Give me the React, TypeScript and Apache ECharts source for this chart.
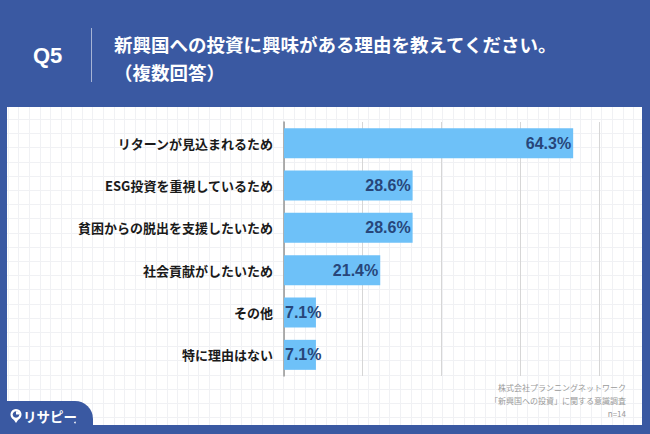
import React, { useEffect, useRef } from "react";
import * as echarts from "echarts";

const categories = [
  "リターンが見込まれるため",
  "ESG投資を重視しているため",
  "貧困からの脱出を支援したいため",
  "社会貢献がしたいため",
  "その他",
  "特に理由はない",
];
const values = [64.3, 28.6, 28.6, 21.4, 7.1, 7.1];
const questionNo = "Q5";
const titleLines = ["新興国への投資に興味がある理由を教えてください。", "（複数回答）"];
const footerLines = ["株式会社プランニングネットワーク", "「新興国への投資」に関する意識調査", "n=14"];
const logoText = "リサピー";

const BLUE = "#3A59A2";
const JP = "'Noto Sans CJK JP', 'Noto Sans', sans-serif";

export default function App() {
  const ref = useRef<HTMLDivElement>(null);
  useEffect(() => {
    if (!ref.current) return;
    const chart = echarts.init(ref.current, undefined, { renderer: "svg" });

    const bg: any[] = [];
    for (let x = 7.7; x < 642; x += 10.6) {
      bg.push({
        type: "line",
        z: -1,
        silent: true,
        shape: { x1: Math.round(x) + 0.5, y1: 107, x2: Math.round(x) + 0.5, y2: 425 },
        style: { stroke: "#f0f1f4", lineWidth: 1 },
      });
    }
    for (let y = 119; y < 425; y += 14.2) {
      bg.push({
        type: "line",
        z: -1,
        silent: true,
        shape: { x1: 7, y1: Math.round(y) + 0.5, x2: 642, y2: Math.round(y) + 0.5 },
        style: { stroke: "#f0f1f4", lineWidth: 1 },
      });
    }

    const option: any = {
      animation: false,
      backgroundColor: BLUE,
      grid: { left: 284, top: 122, width: 314.8, height: 254, containLabel: false },
      xAxis: {
        type: "value",
        min: 0,
        max: 70,
        interval: 17.5,
        axisLabel: { show: false },
        axisLine: { show: false },
        axisTick: { show: false },
        splitLine: { show: true, lineStyle: { color: "#d6d6d6", width: 1 } },
      },
      yAxis: {
        type: "category",
        inverse: true,
        data: categories,
        axisLine: { show: true, lineStyle: { color: "#9a9a9a", width: 1.5 } },
        axisTick: { show: false },
        axisLabel: {
          margin: 11,
          color: "#1a1a1a",
          fontSize: 13,
          fontWeight: "bold",
          fontFamily: JP,
        },
      },
      series: [
        {
          type: "bar",
          barWidth: 30,
          z: 3,
          data: values.map((v) => ({
            value: v,
            label:
              v < 10
                ? { position: "insideLeft", distance: 1 }
                : { position: "insideRight", distance: 2 },
          })),
          itemStyle: { color: "#6EC1F8" },
          label: {
            show: true,
            formatter: (p: any) => p.value.toFixed(1) + "%",
            color: "#27467A",
            fontSize: 16,
            fontWeight: "bold",
            fontFamily: "'Liberation Sans', Arial, sans-serif",
          },
        },
      ],
      graphic: [
        {
          type: "rect",
          z: -2,
          silent: true,
          shape: { x: 7, y: 107, width: 635, height: 318 },
          style: { fill: "#ffffff" },
        },
        ...bg,
        {
          type: "text",
          x: 33,
          y: 55,
          style: {
            text: questionNo,
            fill: "#ffffff",
            fontSize: 22,
            fontWeight: "bold",
            fontFamily: "'Liberation Sans', Arial, sans-serif",
            verticalAlign: "middle",
          },
        },
        {
          type: "line",
          shape: { x1: 91.5, y1: 28, x2: 91.5, y2: 82 },
          style: { stroke: "rgba(255,255,255,0.55)", lineWidth: 1 },
        },
        ...titleLines.map((t, i) => ({
          type: "text",
          x: 114,
          y: 44 + i * 28,
          style: {
            text: t,
            fill: "#ffffff",
            fontSize: 18.5,
            fontWeight: "bold",
            fontFamily: JP,
            verticalAlign: "middle",
          },
        })),
        ...footerLines.map((t, i) => ({
          type: "text",
          x: 626,
          y: 387 + i * 13,
          style: {
            text: t,
            fill: "#9a9a9a",
            fontSize: 8,
            fontFamily: JP,
            align: "right",
            verticalAlign: "middle",
          },
        })),
        {
          type: "rect",
          shape: { x: 0, y: 401, width: 93, height: 33, r: [0, 18, 0, 0] },
          style: { fill: BLUE },
        },
        {
          type: "circle",
          shape: { cx: 16, cy: 414.5, r: 5.5 },
          style: { fill: "#ffffff" },
        },
        {
          type: "polygon",
          shape: { points: [[12.5, 418], [19.5, 418], [16, 423]] },
          style: { fill: "#ffffff" },
        },
        {
          type: "circle",
          shape: { cx: 16, cy: 414.5, r: 3.3 },
          style: { fill: BLUE },
        },
        {
          type: "sector",
          shape: { cx: 16, cy: 414.5, r: 3.3, r0: 0, startAngle: -Math.PI / 2, endAngle: 0 },
          style: { fill: "#ffffff" },
        },
        {
          type: "text",
          x: 23,
          y: 416,
          style: {
            text: logoText,
            fill: "#ffffff",
            fontSize: 13.5,
            fontWeight: "bold",
            fontFamily: JP,
            verticalAlign: "middle",
          },
        },
        {
          type: "circle",
          shape: { cx: 75, cy: 422.5, r: 0.8 },
          style: { fill: "#ffffff" },
        },
      ],
    };
    chart.setOption(option);
    return () => chart.dispose();
  }, []);
  return (
    <div
      ref={ref}
      style={{ position: "fixed", left: 0, top: 0, width: 650, height: 434 }}
    />
  );
}
